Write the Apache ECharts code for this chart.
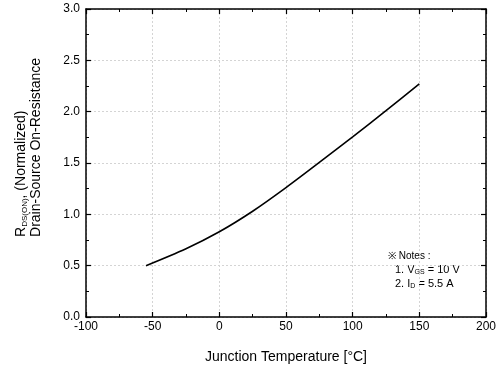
<!DOCTYPE html>
<html><head><meta charset="utf-8">
<script src="https://cdn.jsdelivr.net/npm/echarts@6/dist/echarts.min.js"></script>
<style>html,body{margin:0;padding:0;background:#fff}#c{width:499px;height:377px}</style>
</head><body><div id="c"></div>
<script>
const temps = [-55, -25, 0, 25, 50, 75, 100, 125, 150];
const rdsNorm = [0.50, 0.665, 0.83, 1.03, 1.26, 1.505, 1.755, 2.01, 2.27];
const xTicks = [-100, -50, 0, 50, 100, 150, 200];
const yTicks = [0.0, 0.5, 1.0, 1.5, 2.0, 2.5, 3.0];
const noteHead = '※ Notes :';
const noteLines = ['1. V{s|GS} = 10 V', '2. I{s|D} = 5.5 A'];

const font = 'Liberation Sans, Arial, sans-serif';
const chart = echarts.init(document.getElementById('c'), null, {renderer: 'canvas'});
const axLine = {show: true, onZero: false, lineStyle: {color: '#000', width: 1.5}};
const tickIn = {show: true, inside: true, length: 5, lineStyle: {color: '#000', width: 1.2}};
const minorIn = {show: true, splitNumber: 2, length: 3, lineStyle: {color: '#000', width: 1}};
const grid = {show: true, lineStyle: {color: '#d4d4d4', type: [2, 2], width: 1}};
chart.setOption({
  animation: false,
  grid: {left: 86, right: 13, top: 9, bottom: 60, containLabel: false},
  xAxis: [{
    type: 'value', min: xTicks[0], max: xTicks[xTicks.length-1], interval: 50,
    axisLine: axLine, axisTick: tickIn, minorTick: minorIn, splitLine: grid,
    axisLabel: {color: '#000', fontFamily: font, fontSize: 12, margin: 4},
    name: 'Junction Temperature [°C]', nameLocation: 'middle', nameGap: 33,
    nameTextStyle: {color: '#000', fontFamily: font, fontSize: 14}
  }, {
    type: 'value', position: 'top', min: xTicks[0], max: xTicks[xTicks.length-1], interval: 50,
    axisLine: axLine, axisTick: tickIn, minorTick: minorIn, splitLine: {show: false},
    axisLabel: {show: false}
  }],
  yAxis: [{
    type: 'value', min: yTicks[0], max: yTicks[yTicks.length-1], interval: 0.5,
    axisLine: axLine, axisTick: tickIn, minorTick: minorIn, splitLine: grid,
    axisLabel: {color: '#000', fontFamily: font, fontSize: 12, margin: 6,
      formatter: v => v.toFixed(1)}
  }, {
    type: 'value', position: 'right', min: yTicks[0], max: yTicks[yTicks.length-1], interval: 0.5,
    axisLine: axLine, axisTick: tickIn, minorTick: minorIn, splitLine: {show: false},
    axisLabel: {show: false}
  }],
  graphic: [{
    type: 'text', left: 14, top: 58, rotation: Math.PI/2,
    style: {
      text: 'R{s|DS(ON)}, (Normalized)\nDrain-Source On-Resistance',
      fill: '#000', font: '14px ' + font, lineHeight: 15, align: 'center',
      rich: {s: {fontSize: 8, fontFamily: font, verticalAlign: 'bottom', padding: [6,0,0,0]}}
    }
  }, {
    type: 'text', left: 388, top: 251,
    style: {text: noteHead, fill: '#000', font: '10px ' + font}
  }, {
    type: 'text', left: 395, top: 263,
    style: {
      text: noteLines.join('\n'), fill: '#000', font: '11px ' + font, lineHeight: 14,
      rich: {s: {fontSize: 7, fontFamily: font, padding: [4,0,0,0]}}
    }
  }],
  series: [{
    type: 'line', xAxisIndex: 0, yAxisIndex: 0,
    data: temps.map((t, i) => [t, rdsNorm[i]]),
    smooth: 0.3, showSymbol: false, lineStyle: {color: '#000', width: 1.6}
  }]
});
</script></body></html>
